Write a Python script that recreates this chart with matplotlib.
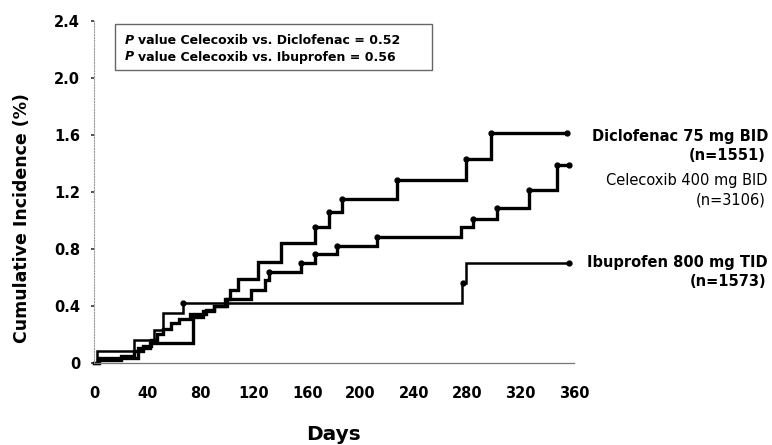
import numpy as np
import matplotlib
matplotlib.use("Agg")
import matplotlib.pyplot as plt

# Kaplan-Meier style cumulative incidence (%) by treatment arm
diclo_days = [0, 4, 33, 42, 74, 82, 90, 98, 102, 108, 123, 140, 166, 176, 186, 227, 279, 298, 355]
diclo_vals = [0, 0.03, 0.10, 0.14, 0.32, 0.36, 0.40, 0.45, 0.51, 0.59, 0.71, 0.84, 0.95, 1.06, 1.15, 1.28, 1.43, 1.61, 1.61]

celec_days = [0, 3, 20, 30, 37, 43, 47, 52, 58, 64, 72, 84, 90, 100, 118, 128, 131, 155, 166,
              182, 212, 275, 284, 302, 326, 347, 356]
celec_vals = [0, 0.02, 0.05, 0.08, 0.12, 0.16, 0.20, 0.24, 0.28, 0.31, 0.34, 0.37, 0.40, 0.45,
              0.51, 0.58, 0.64, 0.70, 0.76, 0.82, 0.88, 0.95, 1.01, 1.09, 1.21, 1.39, 1.39]

ibu_days = [0, 2, 30, 45, 52, 67, 276, 279, 356]
ibu_vals = [0, 0.08, 0.16, 0.23, 0.35, 0.42, 0.56, 0.70, 0.70]

# censored observations (days)
diclo_cens = [166, 176, 186, 227, 279, 298, 355]
celec_cens = [131, 155, 166, 182, 212, 284, 302, 326, 347, 356]
ibu_cens = [67, 277, 356]

x_ticks = [0, 40, 80, 120, 160, 200, 240, 280, 320, 360]
y_ticks = [0, 0.4, 0.8, 1.2, 1.6, 2.0, 2.4]
y_ticklabels = ["0", "0.4", "0.8", "1.2", "1.6", "2.0", "2.4"]

arm_labels = [("Diclofenac 75 mg BID", "(n=1551)", "bold", 137, 155),
              ("Celecoxib 400 mg BID", "(n=3106)", "normal", 180, 200),
              ("Ibuprofen 800 mg TID", "(n=1573)", "bold", 262, 281)]

W, H = 772, 445
fig = plt.figure(figsize=(W / 100, H / 100), dpi=100)
ax = fig.add_axes([94 / W, 1 - 362.7 / H, (574 - 94) / W, (362.7 - 21) / H])


def step_at(days, vals, d):
    i = np.searchsorted(days, d, side="right") - 1
    return vals[max(i, 0)]


for days, vals, cens, lw in [(ibu_days, ibu_vals, ibu_cens, 1.8),
                             (celec_days, celec_vals, celec_cens, 2.4),
                             (diclo_days, diclo_vals, diclo_cens, 2.4)]:
    ax.step(days, vals, where="post", color="black", lw=lw, clip_on=False, solid_joinstyle="miter")
    cy = [step_at(days, vals, d) for d in cens]
    ax.plot(cens, cy, "o", color="black", ms=3.5, clip_on=False)

ax.set_xlim(0, 360)
ax.set_ylim(0, 2.4)
ax.set_xticks(x_ticks)
ax.set_yticks(y_ticks)
ax.set_yticklabels(y_ticklabels)

for s in ["top", "right"]:
    ax.spines[s].set_visible(False)
ax.spines["left"].set_color("#999999")
ax.spines["left"].set_linestyle((0, (1, 1.5)))
ax.spines["left"].set_linewidth(0.8)
ax.spines["bottom"].set_color("#777777")
ax.spines["bottom"].set_linewidth(0.9)

tick_font = matplotlib.font_manager.FontProperties(family="DejaVu Sans", weight="bold", size=10.5)
ax.tick_params(axis="x", length=0, pad=17)
ax.tick_params(axis="y", length=2, width=1.2, color="#333333", pad=8)
for lab in ax.get_xticklabels() + ax.get_yticklabels():
    lab.set_fontproperties(tick_font)

fig.text(334 / W, 1 - 434 / H, "Days", ha="center", va="center",
         family="DejaVu Sans", weight="bold", size=14.5)
fig.text(22 / W, 1 - 218 / H, "Cumulative Incidence (%)", ha="center", va="center",
         rotation=90, family="DejaVu Sans", weight="bold", size=12.5)

# p-value box
box = plt.Rectangle((115 / W, 1 - 70 / H), (432 - 115) / W, (70 - 24) / H,
                    transform=fig.transFigure, fill=False, ec="#666666", lw=1.0)
fig.add_artist(box)
for y, txt in [(40, "value Celecoxib vs. Diclofenac = 0.52"),
               (57, "value Celecoxib vs. Ibuprofen = 0.56")]:
    fig.text(125 / W, 1 - y / H, "P", ha="left", va="center", style="italic",
             family="DejaVu Sans", weight="bold", size=9)
    fig.text(138 / W, 1 - y / H, txt, ha="left", va="center",
             family="DejaVu Sans", weight="bold", size=9)

for name, n, wt, y1, y2 in arm_labels:
    fig.text(768 / W, 1 - y1 / H, name, ha="right", va="center",
             family="DejaVu Sans", weight=wt, size=10.5)
    fig.text(766 / W, 1 - y2 / H, n, ha="right", va="center",
             family="DejaVu Sans", weight=wt, size=10.5)

fig.savefig("out.png", dpi=100)
